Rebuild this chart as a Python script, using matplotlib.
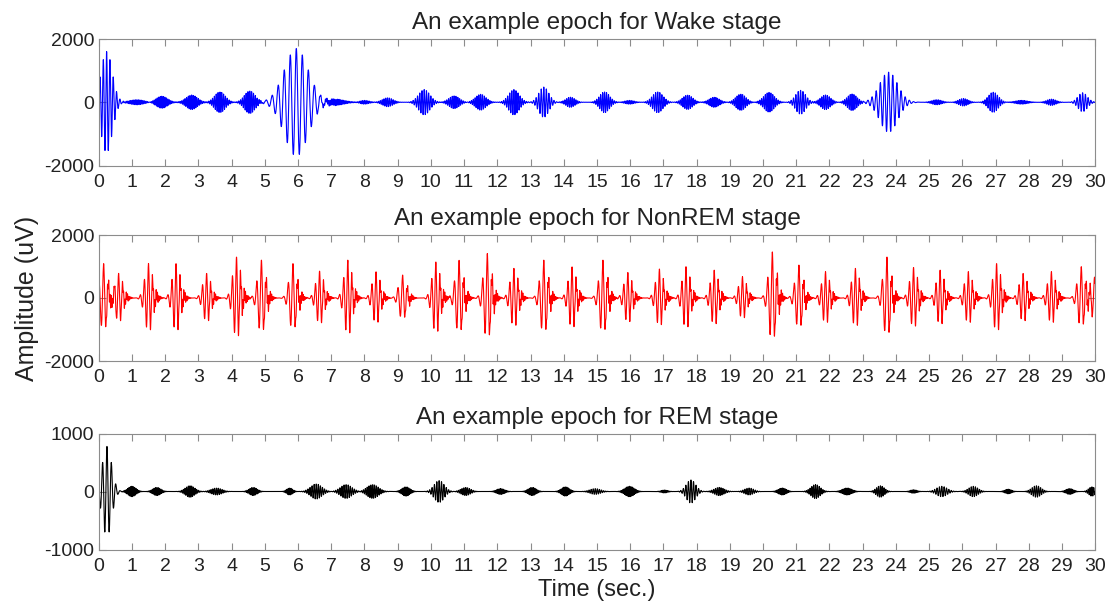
#!/usr/bin/env python3
"""
Example 30 s epochs of EEG for Wake, NonREM and REM sleep stages.
Each trace is built from the bursts read off the original figure
(centre time, peak amplitude, envelope width, oscillation frequency).
"""

import numpy as np
import matplotlib.pyplot as plt

plt.rcParams['font.family'] = ['Liberation Sans', 'DejaVu Sans']
plt.rcParams['axes.unicode_minus'] = False

# Sampling
fs = 250
epoch_len = 30

# Wake stage bursts (sec, uV, sec, Hz)
wake_t = [0.24, 1.15, 1.9, 2.8, 3.65, 4.55, 5.95, 7.1, 8.0, 8.7, 9.8, 10.7,
          11.5, 12.5, 13.4, 14.2, 15.23, 15.98, 16.83, 17.73, 18.53, 19.33,
          20.18, 21.13, 21.88, 22.68, 23.78, 25.23, 26.03, 26.93, 27.78,
          28.68, 29.62]
wake_amp = [1600, 80, 190, 230, 330, 360, 1700, 100, 60, 140, 400, 200,
            250, 400, 480, 160, 330, 60, 330, 230, 160, 260,
            310, 380, 230, 260, 950, 80, 120, 320, 60,
            100, 300]
wake_width = [0.17, 0.22, 0.17, 0.17, 0.16, 0.16, 0.36, 0.28, 0.14, 0.16, 0.17, 0.16,
              0.16, 0.16, 0.15, 0.14, 0.15, 0.14, 0.16, 0.15, 0.15, 0.15,
              0.16, 0.15, 0.15, 0.15, 0.27, 0.15, 0.14, 0.15, 0.18,
              0.14, 0.14]
wake_freq = [10, 22, 22, 20, 18, 18, 5.5, 22, 20, 18, 15, 18,
             18, 16, 13, 18, 17, 20, 16, 18, 20, 18,
             18, 14, 18, 18, 8, 20, 18, 16, 22,
             18, 12]

# NonREM stage bursts
nrem_t = [0.15, 0.6, 1.5, 2.33, 3.25, 4.15, 4.9, 5.85, 6.65, 7.5, 8.35, 9.15,
          10.15, 10.85, 11.7, 12.5, 13.4, 14.25, 15.18, 15.93, 16.88, 17.68,
          18.53, 19.38, 20.28, 21.08, 21.88, 22.78, 23.73, 24.53, 25.33,
          26.18, 27.03, 27.83, 28.68, 29.58, 29.98]
nrem_amp = [1050, 750, 1050, 1050, 750, 1250, 1150, 1050, 820, 1150, 800, 700,
            1100, 1150, 1350, 900, 1150, 950, 1150, 780, 880, 950,
            850, 650, 1400, 1000, 800, 900, 1250, 930, 850,
            800, 1050, 750, 800, 950, 650]
nrem_width = [0.115] * len(nrem_t)
nrem_freq = [7, 8, 8, 8, 8, 8, 7, 7, 8, 8, 8, 7,
             8, 7, 7, 8, 7, 8, 7, 8, 8, 8,
             8, 8, 7, 7, 8, 8, 7, 8, 8,
             8, 8, 8, 8, 7, 7]

# REM stage bursts
rem_t = [0.25, 1.0, 1.75, 2.75, 3.55, 4.65, 5.75, 6.55, 7.45, 8.25, 9.25,
         10.25, 11.05, 12.1, 13.05, 14.05, 14.95, 15.98, 17.03, 17.83, 18.68,
         19.58, 20.58, 21.58, 22.53, 23.53, 24.53, 25.38, 26.33, 27.38,
         28.23, 29.23, 29.9]
rem_amp = [780, 90, 70, 100, 60, 70, 60, 130, 120, 120, 80,
           190, 70, 50, 70, 80, 50, 90, 25, 200, 70,
           60, 60, 120, 60, 100, 30, 90, 90, 40,
           100, 50, 80]
rem_width = [0.14, 0.12, 0.12, 0.14, 0.16, 0.12, 0.09, 0.17, 0.17, 0.17, 0.12,
             0.15, 0.14, 0.12, 0.12, 0.12, 0.16, 0.14, 0.1, 0.14, 0.15,
             0.14, 0.12, 0.14, 0.14, 0.12, 0.1, 0.16, 0.14, 0.1,
             0.14, 0.11, 0.1]
rem_freq = [7.5, 24, 24, 20, 18, 22, 24, 16, 16, 18, 24,
            14, 18, 24, 24, 24, 16, 24, 24, 13, 18,
            16, 24, 18, 24, 18, 24, 14, 16, 24,
            16, 24, 18]

xticks = list(range(0, 31))


def build_trace(t, centers, amps, widths, freqs, tail=0.0):
    """Sum of windowed oscillations, one per burst."""
    sig = np.zeros_like(t)
    for c, a, w, f in zip(centers, amps, widths, freqs):
        env = np.exp(-0.5 * ((t - c) / w) ** 2)
        sig += a * env * np.cos(2 * np.pi * f * (t - c))
        if tail:
            env2 = np.exp(-0.5 * ((t - c - 0.18) / (w * 0.9)) ** 2)
            sig += tail * a * env2 * np.cos(2 * np.pi * 26 * (t - c))
    return sig


def style_axis(ax, ylim, yticks, title):
    ax.set_xlim(0, epoch_len)
    ax.set_ylim(*ylim)
    ax.set_xticks(xticks)
    ax.set_yticks(yticks)
    ax.tick_params(direction='in', length=5, width=0.8, color='#8c8c8c',
                   top=True, right=True, labelsize=14, labelcolor='#222222')
    ax.tick_params(axis='x', pad=6)
    ax.tick_params(axis='y', pad=3)
    for sp in ax.spines.values():
        sp.set_color('#8c8c8c')
        sp.set_linewidth(0.8)
    ax.set_title(title, fontsize=17.5, color='#222222', pad=7)


def main():
    t = np.arange(0, epoch_len, 1.0 / fs)
    wake = build_trace(t, wake_t, wake_amp, wake_width, wake_freq)
    nrem = build_trace(t, nrem_t, nrem_amp, nrem_width, nrem_freq, tail=0.2)
    rem = build_trace(t, rem_t, rem_amp, rem_width, rem_freq)

    fig = plt.figure(figsize=(11.16, 6.01), dpi=100)
    fig.patch.set_facecolor('white')

    left, width = 0.0884, 0.8930
    ax1 = fig.add_axes([left, 1 - 165.5 / 601, width, 126.5 / 601])
    ax2 = fig.add_axes([left, 1 - 361 / 601, width, 126 / 601])
    ax3 = fig.add_axes([left, 1 - 549.5 / 601, width, 116 / 601])

    ax1.plot(t, wake, color='#0000ff', linewidth=0.8)
    style_axis(ax1, (-2000, 2000), [-2000, 0, 2000], 'An example epoch for Wake stage')

    ax2.plot(t, nrem, color='#ff0000', linewidth=0.8)
    style_axis(ax2, (-2000, 2000), [-2000, 0, 2000], 'An example epoch for NonREM stage')
    ax2.set_ylabel('Amplitude (uV)', fontsize=18, color='#222222', labelpad=4)

    ax3.plot(t, rem, color='black', linewidth=0.8)
    style_axis(ax3, (-1000, 1000), [-1000, 0, 1000], 'An example epoch for REM stage')
    ax3.set_xlabel('Time (sec.)', fontsize=17, color='#222222', labelpad=3)

    fig.savefig('out.png', dpi=100, facecolor='white')
    plt.close(fig)


if __name__ == "__main__":
    main()
